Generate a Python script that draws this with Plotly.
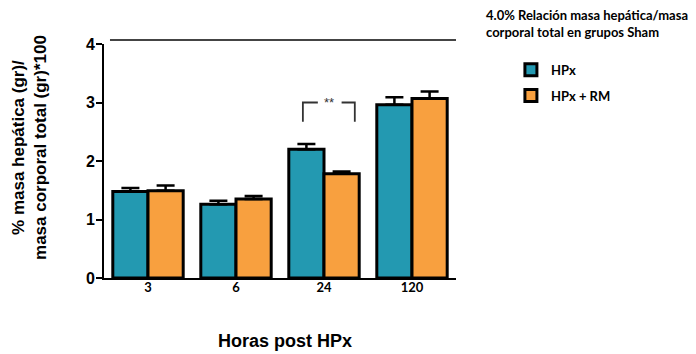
import plotly.graph_objects as go

categories = ["3", "6", "24", "120"]
hpx = [1.48, 1.26, 2.20, 2.96]
hpx_err = [0.06, 0.06, 0.09, 0.13]
hpx_rm = [1.49, 1.35, 1.78, 3.07]
hpx_rm_err = [0.09, 0.05, 0.04, 0.12]
series_names = ["HPx", "HPx + RM"]
colors = ["#2399B1", "#F8A03F"]
yticks = [0, 1, 2, 3, 4]

fig = go.Figure()
for name, vals, errs, col, grp in [
    (series_names[0], hpx, hpx_err, colors[0], "a"),
    (series_names[1], hpx_rm, hpx_rm_err, colors[1], "b"),
]:
    fig.add_trace(go.Bar(
        x=categories, y=vals, name=name, legendgroup=grp,
        marker=dict(color=col, line=dict(color="black", width=3)),
        error_y=dict(type="data", array=errs, arrayminus=[0] * len(errs),
                     color="black", thickness=2.5, width=9),
    ))

# significance bracket at 24 h
bx0, bx1, by0, by1 = 1.76, 2.35, 2.67, 3.0
line_style = dict(color="#333333", width=1.8)
fig.add_shape(type="path", xref="x", yref="y",
              path=f"M {bx0} {by0} L {bx0} {by1} L {bx0 + 0.17} {by1}", line=line_style)
fig.add_shape(type="path", xref="x", yref="y",
              path=f"M {bx1 - 0.15} {by1} L {bx1} {by1} L {bx1} {by0}", line=line_style)
fig.add_annotation(x=(bx0 + bx1) / 2, y=by1, xref="x", yref="y", text="**",
                   xanchor="center", yanchor="middle",
                   showarrow=False, font=dict(family="Liberation Sans", size=13, color="#333333"))

# top rule
fig.add_shape(type="line", xref="paper", yref="paper", x0=0.017, x1=1.0, y0=1.017, y1=1.017,
              line=dict(color="#444444", width=2))

# title
fig.add_annotation(x=1.0795, y=1.165, xref="paper", yref="paper", xanchor="left", yanchor="top",
                   align="left", showarrow=False,
                   text="4.0% Relación masa hepática/masa<br>corporal total en grupos Sham",
                   font=dict(family="Lato", size=13, weight="bold", color="black"))

# axis titles
fig.add_annotation(x=-0.21, y=0.556, xref="paper", yref="paper", textangle=-90,
                   xanchor="center", yanchor="middle",
                   showarrow=False, text="% masa hepática (gr)/<br>masa corporal total (gr)*100",
                   font=dict(family="Liberation Sans", size=17, weight="bold", color="black"))
fig.add_annotation(x=0.514, y=-0.269, xref="paper", yref="paper", showarrow=False,
                   xanchor="center", yanchor="middle",
                   text="Horas post HPx",
                   font=dict(family="Liberation Sans", size=18, weight="bold", color="black"))

fig.update_layout(
    width=688, height=346,
    margin=dict(l=96, r=240, t=36, b=76),
    paper_bgcolor="white", plot_bgcolor="white",
    barmode="group", bargap=0.2, bargroupgap=0,
    showlegend=True,
    legend=dict(x=1.156, y=0.954, xanchor="left", yanchor="top", tracegroupgap=6,
                font=dict(family="Lato", size=13, weight="bold", color="black"),
                bgcolor="rgba(0,0,0,0)"),
    xaxis=dict(showline=True, linecolor="black", linewidth=2, ticks="", showgrid=False,
               ticklabelstandoff=-4,
               tickfont=dict(family="Lato", size=13, weight="bold", color="black")),
    yaxis=dict(range=[0, 4], tickvals=yticks, showline=True, linecolor="black", linewidth=2,
               ticks="outside", ticklen=6, tickwidth=2, tickcolor="black",
               showgrid=False, zeroline=False, ticklabelstandoff=-2,
               tickfont=dict(family="Liberation Sans", size=16, weight="bold", color="black")),
)

fig.write_html("out.html")
